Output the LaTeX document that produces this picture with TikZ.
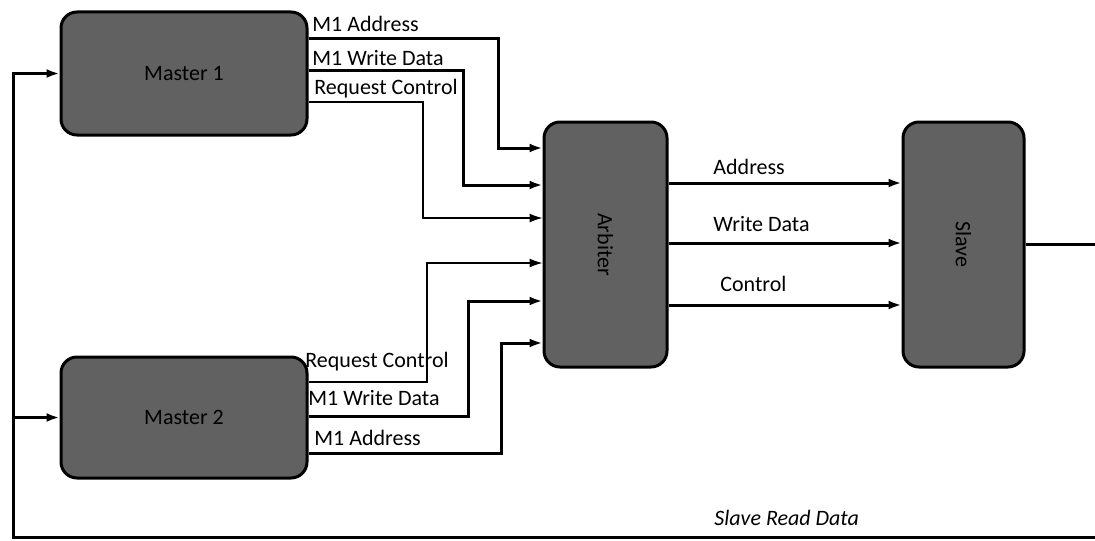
\documentclass[tikz,border=0pt]{standalone}
\usepackage{fontspec}
\setmainfont{Carlito}
\usetikzlibrary{arrows.meta}

\tikzset{
  block/.style={draw=black, line width=1.5pt, rounded corners=8pt,
    fill=black!62, font=\fontsize{11}{13}\selectfont},
  bus/.style={line width=1.5pt, -{Latex[length=6.5pt,width=4.5pt]}},
  ctrl/.style={line width=0.65pt, -{Latex[length=6.5pt,width=4.5pt]}},
  sig/.style={font=\fontsize{11}{13}\selectfont, inner sep=0pt, anchor=west},
}

\begin{document}
\begin{tikzpicture}[x=0.5pt, y=-0.5pt]
  \useasboundingbox (0,0) rectangle (1095,540);

  %% --- blocks ---
  \node[block, minimum width=123pt, minimum height=61.5pt] (m1) at (184,73.5) {Master 1};
  \node[block, minimum width=123pt, minimum height=60.5pt] (m2) at (184,417.5) {Master 2};
  \node[block, minimum width=61.5pt, minimum height=122.5pt] (arb) at (605.5,244.5) {\rotatebox{-90}{Arbiter}};
  \node[block, minimum width=60.5pt, minimum height=122.5pt] (slv) at (963.5,244.5) {\rotatebox{-90}{Slave}};

  %% --- Master 1 -> Arbiter ---
  \draw[bus]  (m1.east |- 0,39)  -| (498,148) -- (arb.west |- 0,148);
  \draw[bus]  (m1.east |- 0,71)  -| (463,185) -- (arb.west |- 0,185);
  \draw[ctrl] (m1.east |- 0,102) -| (423,218) -- (arb.west |- 0,218);
  \node[sig] (m1addr) at (312,24) {M1 Address};
  \node[sig] (m1wdat) at (312,58) {M1 Write Data};
  \node[sig] (m1req)  at (314,89) {Request Control};

  %% --- Master 2 -> Arbiter ---
  \draw[ctrl] (m2.east |- 0,382) -| (427,263) -- (arb.west |- 0,263);
  \draw[bus]  (m2.east |- 0,416) -| (468,301) -- (arb.west |- 0,301);
  \draw[bus]  (m2.east |- 0,453) -| (501,343) -- (arb.west |- 0,343);
  \node[sig] (m2req)  at (305,362) {Request Control};
  \node[sig] (m2wdat) at (308,398) {M1 Write Data};
  \node[sig] (m2addr) at (314,438) {M1 Address};

  %% --- Arbiter -> Slave ---
  \foreach \yy in {183,243,305} {
    \draw[bus] (arb.east |- 0,\yy) -- (slv.west |- 0,\yy);
  }
  \node[sig] (saddr) at (713,167) {Address};
  \node[sig] (swdat) at (713,224) {Write Data};
  \node[sig] (sctl)  at (720,284) {Control};

  %% --- read data back to the masters (right side runs off the page) ---
  \coordinate (rdtop) at (13,537);
  \draw[bus] (slv.east) -- (1099,244.5) |- (rdtop) |- (m1.west);
  \draw[bus] (13,417.5) -- (m2.west);
  \node[sig, font=\fontsize{11}{13}\selectfont\itshape] (srd) at (714,518) {Slave Read Data};
\end{tikzpicture}
\end{document}
